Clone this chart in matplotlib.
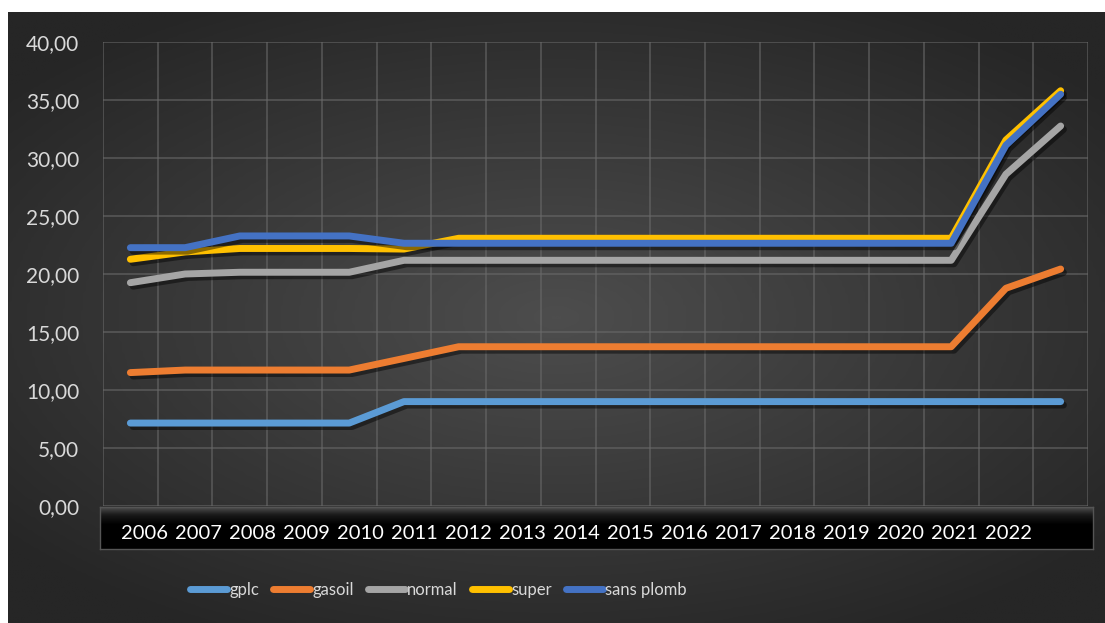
import numpy as np
import matplotlib
matplotlib.use("Agg")
import matplotlib.pyplot as plt
import matplotlib.patheffects as pe
from matplotlib.lines import Line2D
from matplotlib.colors import LinearSegmentedColormap

# fuel prices per year
years = [str(y) for y in range(2006, 2023)]
gplc = [7.15, 7.15, 7.15, 7.15, 7.15, 9.0, 9.0, 9.0, 9.0, 9.0, 9.0, 9.0, 9.0, 9.0, 9.0, 9.0, 9.0, 9.0]
gasoil = [11.5, 11.72, 11.72, 11.72, 11.72, 12.72, 13.73, 13.73, 13.73, 13.73, 13.73, 13.73, 13.73, 13.73,
          13.73, 13.73, 18.77, 20.43]
normal = [19.25, 20.0, 20.15, 20.15, 20.15, 21.18, 21.18, 21.18, 21.18, 21.18, 21.18, 21.18, 21.18, 21.18,
          21.18, 21.18, 28.6, 32.76]
super_ = [21.27, 21.9, 22.2, 22.2, 22.2, 22.15, 23.08, 23.08, 23.08, 23.08, 23.08, 23.08, 23.08, 23.08,
          23.08, 23.08, 31.55, 35.8]
sans_plomb = [22.27, 22.27, 23.28, 23.28, 23.28, 22.65, 22.65, 22.65, 22.65, 22.65, 22.65, 22.65, 22.65,
              22.65, 22.65, 22.65, 31.1, 35.5]

names = ["gplc", "gasoil", "normal", "super", "sans plomb"]
series = [gplc, gasoil, normal, super_, sans_plomb]
colors = ["#5B9BD5", "#ED7D31", "#A5A5A5", "#FFC000", "#4472C4"]

plt.rcParams['font.family'] = ['Lato', 'DejaVu Sans']

W, H = 1105, 623
fig = plt.figure(figsize=(W / 100, H / 100), dpi=100)
fig.patch.set_facecolor("white")

# dark background with a soft radial glow
bg = fig.add_axes([8 / W, 0, 1 - 8 / W, (H - 12) / H])
bg.set_axis_off()
gx, gy = np.meshgrid(np.linspace(-1, 1, 400), np.linspace(-1, 1, 260))
r = np.clip(np.sqrt((gx * 1.0) ** 2 + (gy * 1.1) ** 2), 0, 1.3) / 1.3
glow = LinearSegmentedColormap.from_list("glow", ["#4d4d4d", "#262626"])
bg.imshow(r, cmap=glow, aspect="auto", extent=(0, 1, 0, 1), interpolation="bilinear")
bg.set_xlim(0, 1)
bg.set_ylim(0, 1)

# plot area
left, right, top, bottom = 103, 1088, 42, 506
ax = fig.add_axes([left / W, (H - bottom) / H, (right - left) / W, (bottom - top) / H])
ax.patch.set_alpha(0)
x = np.arange(len(gplc))
ax.set_xlim(-0.5, len(gplc) - 0.5)
ax.set_ylim(0, 40)
for s in ax.spines.values():
    s.set_visible(False)
ax.set_yticks(np.arange(0, 41, 5))
ax.set_yticklabels([f"{v:.2f}".replace(".", ",") for v in np.arange(0, 41, 5)])
ax.set_xticks([])
ax.tick_params(axis="y", length=0, pad=17, labelsize=15, labelcolor="#d9d9d9")
for gv in np.arange(0, 41, 5):
    ax.axhline(gv, color="#6a6a6a", lw=1.1, alpha=0.7, zorder=1)
for gv in np.arange(-0.5, len(gplc), 1):
    ax.axvline(gv, color="#6a6a6a", lw=1.1, alpha=0.7, zorder=1)

shadow = [pe.SimpleLineShadow(offset=(2, -2.5), shadow_color="black", alpha=0.45), pe.Normal()]
for name, vals, c in zip(names, series, colors):
    ax.plot(x, vals, color=c, lw=5, solid_capstyle="round", solid_joinstyle="round",
            path_effects=shadow, zorder=3, label=name)

# black category band under the plot
bl, br, bt, bb = 100, 1093, 507, 549
band = fig.add_axes([bl / W, (H - bb) / H, (br - bl) / W, (bb - bt) / H])
band.set_xticks([])
band.set_yticks([])
for s in band.spines.values():
    s.set_color("#555555")
    s.set_linewidth(1)
shade = LinearSegmentedColormap.from_list("shade", ["#000000", "#000000", "#1a1a1a", "#505050"])
band.imshow(np.linspace(0, 1, 100)[:, None] ** 2, cmap=shade, aspect="auto",
            extent=(0, 1, 0, 1), origin="lower")
band.set_xlim(0, 1)
band.set_ylim(0, 1)
for k, lab in enumerate(years):
    px = 144.5 + 54.0 * k
    band.text((px - bl) / (br - bl), 0.37, lab, ha="center", va="center",
              color="white", fontsize=14.5)

handles = [Line2D([], [], color=c, lw=5, solid_capstyle="round") for c in colors]
leg = fig.legend(handles, names, loc="center", bbox_to_anchor=(438.5 / W, (H - 590) / H),
                 ncol=5, frameon=False, fontsize=12, handlelength=2.2, handletextpad=0.15,
                 columnspacing=0.85, labelcolor="#d9d9d9")

fig.savefig("out.png", dpi=100, facecolor="white")
